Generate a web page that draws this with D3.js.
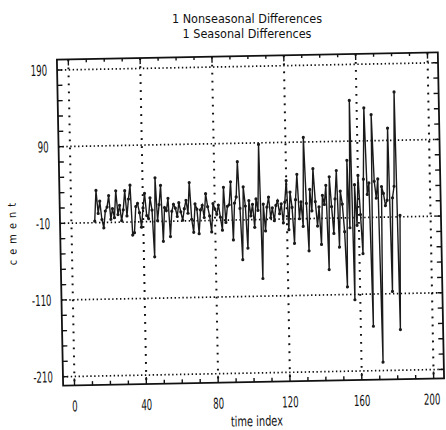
<!DOCTYPE html>
<html>
<head>
<meta charset="utf-8">
<script src="https://cdn.jsdelivr.net/npm/d3@7"></script>
<style>
  body { margin: 0; background: #fff; }
  text { font-family: "DejaVu Sans Condensed", "DejaVu Sans", sans-serif; fill: #111; }
</style>
</head>
<body>
<div id="chart"></div>
<script>
var width = 446,
    height = 430;

// series starts at time index 13 (after 1 nonseasonal + 1 seasonal difference)
var firstIndex = 13;
var cement = [
  -8, 32, 2, 18, -6, -17, 5, 10, 25, -6,
  8, -4, 31, 0, 12, -8, 6, 31, -2, 20,
  38, -27, -24, 10, 14, 2, -17, 8, 27, -2,
  -6, 21, 5, -56, 47, -9, 12, 37, -36, 8,
  4, 20, -30, 3, 12, 7, -4, 14, 2, -9,
  6, 17, 0, 40, -8, -25, 12, 5, -27, 4,
  10, -6, 25, 8, -4, -25, 12, 5, -2, 10,
  -6, -23, 33, -13, 8, 10, 40, -36, 12, 20,
  66, 5, -62, 33, 8, -47, 15, -5, 10, -20,
  17, 2, 88, -87, 10, -25, 6, 19, -8, 5,
  -12, 8, 14, -3, 10, -15, 12, 40, -24, 25,
  5, -42, 15, 48, -10, 12, -20, 96, 10, -52,
  28, 0, 55, 12, -20, 5, -44, 20, 8, 33,
  -77, 44, 5, -30, 15, 52, -48, 25, 8, -28,
  -100, 65, -23, 143, -117, 33, -20, 45, -6, -57,
  40, 133, 20, 35, -152, 124, 37, 15, 40, -199,
  30, 21, 5, 12, 106, -107, 15, 30, 153, -157, -8
];

var xTicks = [0, 40, 80, 120, 160, 200];
var yTicks = [190, 90, -10, -110, -210];
var titleLines = ["1 Nonseasonal Differences", "1 Seasonal Differences"];

var svg = d3.select("#chart").append("svg")
    .attr("width", width)
    .attr("height", height);

// title
svg.selectAll(".title").data(titleLines).enter().append("text")
    .attr("transform", (d, i) => "translate(247," + (22.5 + i * 15) + ")")
    .attr("text-anchor", "middle")
    .attr("font-size", 12.5)
    .text(d => d);

// the scanned page is a little tilted
var g = svg.append("g").attr("transform", "rotate(-1.1,253,220)");

var frame = {left: 60, right: 441, top: 56, bottom: 382};

var x = d3.scaleLinear().domain([0, 200]).range([71.4, 430.6]);
var y = d3.scaleLinear().domain([-210, 190]).range([373, 66.3]);

// grid
g.selectAll(".hgrid").data(yTicks).enter().append("line")
    .attr("x1", frame.left).attr("x2", frame.right)
    .attr("y1", d => y(d)).attr("y2", d => y(d))
    .attr("stroke", "#111").attr("stroke-width", 1.7)
    .attr("stroke-dasharray", "1.4,2.5");

g.selectAll(".vgrid").data(xTicks).enter().append("line")
    .attr("x1", d => x(d)).attr("x2", d => x(d))
    .attr("y1", frame.top).attr("y2", frame.bottom)
    .attr("stroke", "#111").attr("stroke-width", 2)
    .attr("stroke-dasharray", "1.8,6.2");

// frame
g.append("rect")
    .attr("x", frame.left).attr("y", frame.top)
    .attr("width", frame.right - frame.left)
    .attr("height", frame.bottom - frame.top)
    .attr("fill", "none").attr("stroke", "#111").attr("stroke-width", 1.8);

// ticks
var xMinor = d3.range(0, 201, 10);
g.selectAll(".xb").data(xMinor).enter().append("line")
    .attr("x1", d => x(d)).attr("x2", d => x(d))
    .attr("y1", frame.bottom)
    .attr("y2", d => frame.bottom - (d % 40 === 0 ? 7 : 4))
    .attr("stroke", "#111").attr("stroke-width", 1.4);
g.selectAll(".xt").data(xMinor).enter().append("line")
    .attr("x1", d => x(d)).attr("x2", d => x(d))
    .attr("y1", frame.top)
    .attr("y2", d => frame.top + (d % 40 === 0 ? 6 : 3))
    .attr("stroke", "#111").attr("stroke-width", 1.4);

var yMinor = d3.range(-210, 191, 20);
g.selectAll(".yl").data(yMinor).enter().append("line")
    .attr("x1", frame.left).attr("x2", frame.left + 5)
    .attr("y1", d => y(d)).attr("y2", d => y(d))
    .attr("stroke", "#111").attr("stroke-width", 1.4);
g.selectAll(".yr").data(yMinor).enter().append("line")
    .attr("x1", frame.right).attr("x2", frame.right - 5)
    .attr("y1", d => y(d)).attr("y2", d => y(d))
    .attr("stroke", "#111").attr("stroke-width", 1.4);

// tick labels, squeezed like the plotter font
g.selectAll(".xlab").data(xTicks).enter().append("text")
    .attr("transform", d => "translate(" + (x(d) - (d === 200 ? 2 : 0)) + ",408) scale(0.64,1)")
    .attr("text-anchor", "middle")
    .attr("font-size", 15)
    .text(d => d);

g.selectAll(".ylab").data(yTicks).enter().append("text")
    .attr("transform", d => "translate(50," + (y(d) + 5.5) + ") scale(0.64,1)")
    .attr("text-anchor", "end")
    .attr("font-size", 15)
    .text(d => d);

// axis titles
g.append("text")
    .attr("transform", "translate(253,426) scale(0.78,1)")
    .attr("text-anchor", "middle")
    .attr("font-size", 14)
    .text("time index");

g.append("text")
    .attr("transform", "translate(16,227) rotate(-90)")
    .attr("text-anchor", "middle")
    .attr("font-size", 11)
    .attr("letter-spacing", 5)
    .text("cement");

// series
var line = d3.line()
    .x((d, i) => x(firstIndex + i))
    .y(d => y(d));

g.append("path")
    .datum(cement)
    .attr("d", line)
    .attr("fill", "none")
    .attr("stroke", "#1a1a1a")
    .attr("stroke-width", 1.4);

g.selectAll(".pt").data(cement).enter().append("circle")
    .attr("cx", (d, i) => x(firstIndex + i))
    .attr("cy", d => y(d))
    .attr("r", 1.6)
    .attr("fill", "#1a1a1a");
</script>
</body>
</html>
